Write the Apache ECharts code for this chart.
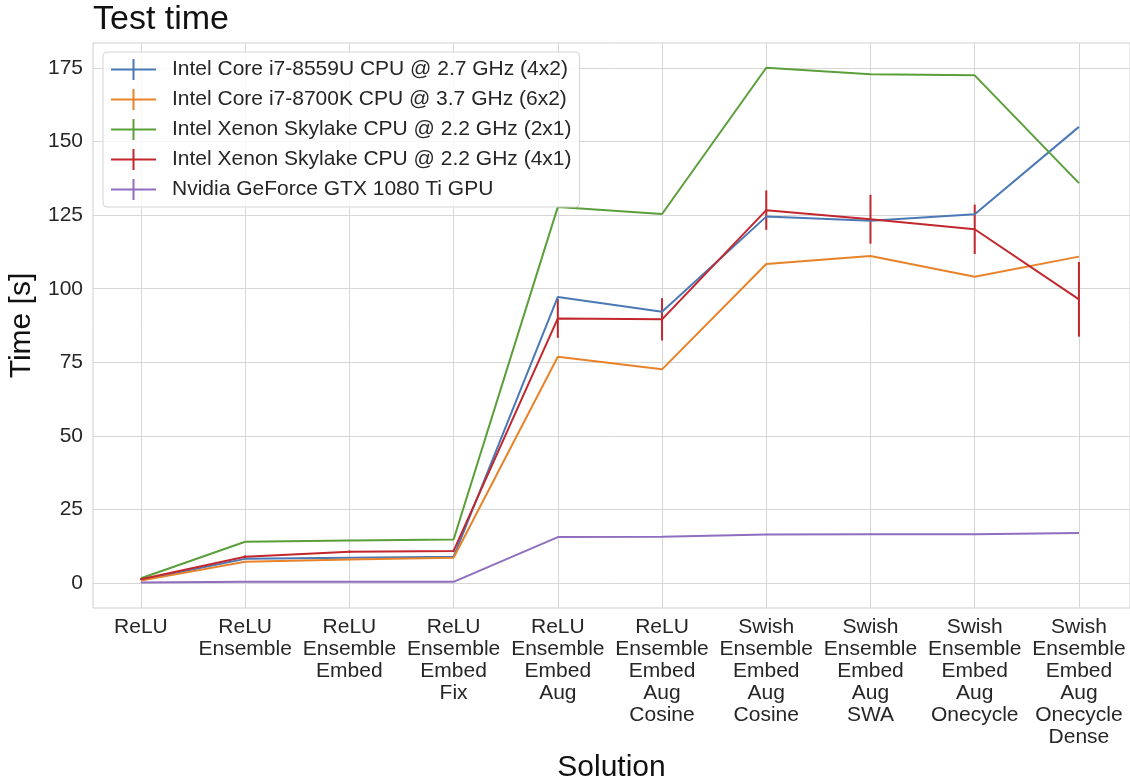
<!DOCTYPE html>
<html>
<head>
<meta charset="utf-8">
<title>Test time</title>
<script src="https://cdn.jsdelivr.net/npm/echarts@6/dist/echarts.min.js"></script>
<style>
  html, body { margin: 0; padding: 0; background: #fff; }
  #box { width: 1130px; height: 780px; }
</style>
</head>
<body>
<div id="box"></div>
<script>
// x 轴类别 (多行标签)
const solutions = [
  "ReLU",
  "ReLU\nEnsemble",
  "ReLU\nEnsemble\nEmbed",
  "ReLU\nEnsemble\nEmbed\nFix",
  "ReLU\nEnsemble\nEmbed\nAug",
  "ReLU\nEnsemble\nEmbed\nAug\nCosine",
  "Swish\nEnsemble\nEmbed\nAug\nCosine",
  "Swish\nEnsemble\nEmbed\nAug\nSWA",
  "Swish\nEnsemble\nEmbed\nAug\nOnecycle",
  "Swish\nEnsemble\nEmbed\nAug\nOnecycle\nDense",
];
const yTicks = [0, 25, 50, 75, 100, 125, 150, 175];

const names = [
  "Intel Core i7-8559U CPU @ 2.7 GHz (4x2)",
  "Intel Core i7-8700K CPU @ 3.7 GHz (6x2)",
  "Intel Xenon Skylake CPU @ 2.2 GHz (2x1)",
  "Intel Xenon Skylake CPU @ 2.2 GHz (4x1)",
  "Nvidia GeForce GTX 1080 Ti GPU",
];
const i7_8559U = [1.0, 8.2, 8.6, 8.9, 97.2, 92.2, 124.5, 123.1, 125.3, 155.0];
const i7_8700K = [0.8, 7.2, 8.0, 8.6, 76.9, 72.6, 108.4, 111.1, 104.1, 110.9];
const xenon2x1 = [1.6, 14.0, 14.4, 14.8, 127.8, 125.4, 175.1, 172.9, 172.5, 135.9];
const xenon4x1 = [1.3, 8.9, 10.6, 10.9, 89.9, 89.6, 126.7, 123.6, 120.2, 96.4];
const xenon4x1Err = [0.3, 0.5, 0.4, 0.4, 6.6, 7.2, 6.7, 8.3, 8.4, 12.7];
const gtx1080Ti = [0.2, 0.4, 0.4, 0.4, 15.6, 15.7, 16.5, 16.6, 16.6, 17.0];

const colors = ["#4a79b6", "#e8832a", "#5a9f3a", "#c1272d", "#8f6ebf"];
const FONT = "Liberation Sans, Arial, sans-serif";

const myChart = echarts.init(document.getElementById("box"));

function lineSeries(name, values, color) {
  return {
    name: name,
    type: "line",
    symbol: "none",
    data: values.map((v, i) => [i, v]),
    lineStyle: { color: color, width: 2 },
    itemStyle: { color: color },
  };
}

// 误差棒 (仅 4x1 有明显的误差)
const errorSeries = {
  name: names[3],
  type: "custom",
  data: xenon4x1.map((v, i) => [i, v - xenon4x1Err[i], v + xenon4x1Err[i]]),
  encode: { x: 0, y: [1, 2] },
  renderItem: function (params, api) {
    const lo = api.coord([api.value(0), api.value(1)]);
    const hi = api.coord([api.value(0), api.value(2)]);
    return {
      type: "line",
      shape: { x1: lo[0], y1: lo[1], x2: hi[0], y2: hi[1] },
      style: { stroke: colors[3], lineWidth: 2 },
    };
  },
};

const option = {
  backgroundColor: "#fff",
  color: colors,
  animation: false,
  textStyle: { fontFamily: FONT },
  title: {
    text: "Test time",
    left: 93,
    top: 3,
    padding: 0,
    textStyle: { fontFamily: FONT, fontSize: 34, fontWeight: "normal", color: "#111" },
  },
  legend: {
    data: names,
    orient: "vertical",
    left: 103,
    top: 52,
    padding: [7, 8, 7, 8],
    itemGap: 9,
    itemWidth: 45,
    itemHeight: 21,
    icon: "path://M0,9.5H45V11.5H0Z M21.5,0H23.5V21H21.5Z",
    backgroundColor: "rgba(255,255,255,0.8)",
    borderColor: "#d4d4d4",
    borderWidth: 1,
    borderRadius: 4,
    itemStyle: { borderWidth: 0 },
    textStyle: { fontFamily: FONT, fontSize: 21, color: "#262626", padding: [0, 0, 0, 11] },
  },
  grid: {
    left: 93,
    right: 0,
    top: 43,
    bottom: 172,
    outerBoundsMode: "none",
    show: true,
    borderColor: "#cfcfcf",
    borderWidth: 1,
  },
  xAxis: {
    type: "value",
    min: -0.46,
    max: 9.49,
    name: "Solution",
    nameLocation: "middle",
    nameGap: 143,
    nameTextStyle: { fontFamily: FONT, fontSize: 30, color: "#111" },
    axisLine: { show: false },
    axisTick: { show: false, customValues: solutions.map((s, i) => i) },
    axisLabel: {
      customValues: solutions.map((s, i) => i),
      formatter: (v) => solutions[v],
      margin: 8,
      fontFamily: FONT,
      fontSize: 21,
      lineHeight: 22,
      color: "#262626",
      verticalAlign: "top",
    },
    splitLine: { show: true, lineStyle: { color: "#d6d6d6", width: 1 } },
  },
  yAxis: {
    type: "value",
    min: -8.5,
    max: 183.5,
    name: "Time [s]",
    nameLocation: "middle",
    nameGap: 38,
    nameTextStyle: { fontFamily: FONT, fontSize: 30, color: "#111" },
    axisLine: { show: false },
    axisTick: { show: false, customValues: yTicks },
    axisLabel: {
      customValues: yTicks,
      margin: 10,
      fontFamily: FONT,
      fontSize: 21,
      color: "#262626",
    },
    splitLine: { show: true, lineStyle: { color: "#d6d6d6", width: 1 } },
  },
  series: [
    lineSeries(names[0], i7_8559U, colors[0]),
    lineSeries(names[1], i7_8700K, colors[1]),
    lineSeries(names[2], xenon2x1, colors[2]),
    lineSeries(names[3], xenon4x1, colors[3]),
    errorSeries,
    lineSeries(names[4], gtx1080Ti, colors[4]),
  ],
};

myChart.setOption(option);
</script>
</body>
</html>
